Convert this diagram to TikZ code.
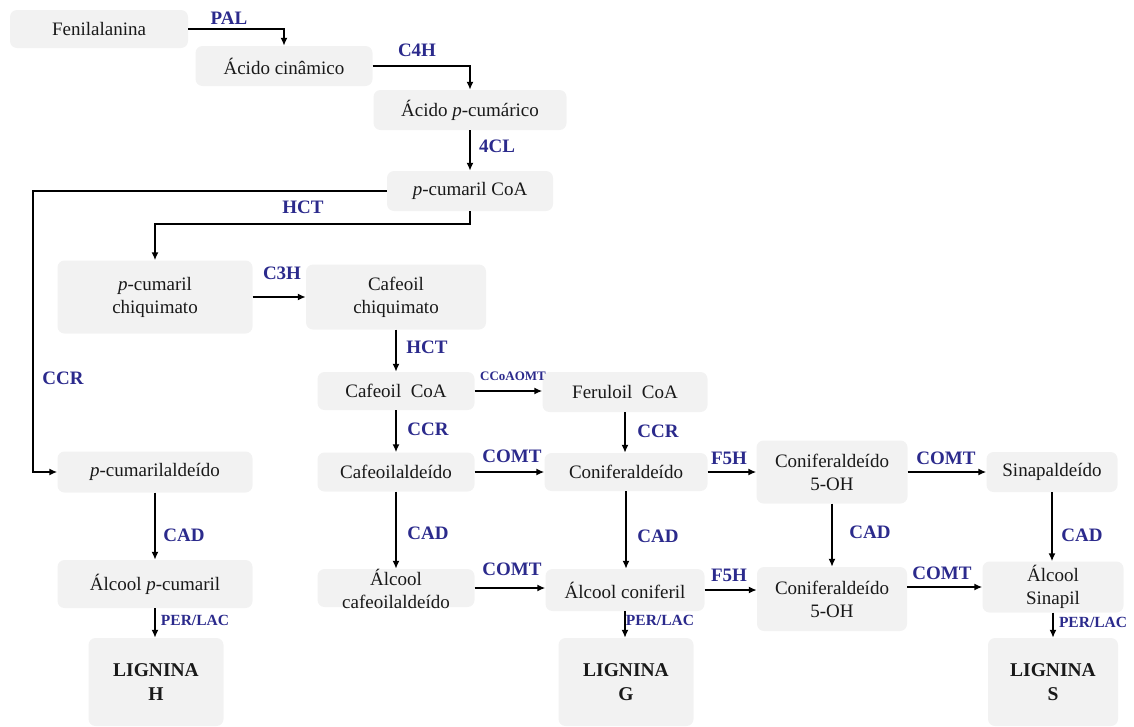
\documentclass[tikz,border=0pt]{standalone}
\usepackage{fontspec}
\setmainfont{Liberation Serif}
\usetikzlibrary{arrows.meta}
\definecolor{enz}{RGB}{43,42,140}
\definecolor{boxgray}{RGB}{242,242,242}
\definecolor{txt}{RGB}{25,25,25}
\begin{document}
\begin{tikzpicture}[x=1pt,y=-1pt,
 box/.style={fill=boxgray, rounded corners=7pt, align=center, inner sep=0pt, text=txt, font=\fontsize{19}{23}\selectfont},
 lig/.style={box, font=\bfseries\fontsize{19.5}{24}\selectfont},
 lab/.style={text=enz, font=\bfseries\fontsize{19}{22}\selectfont, inner sep=0pt},
 smalllab/.style={lab, font=\bfseries\fontsize{13}{15}\selectfont},
 perlab/.style={lab, font=\bfseries\fontsize{15.5}{18}\selectfont},
 arr/.style={-{Latex[length=8pt,width=7pt]}, line width=1.6pt},
]
\useasboundingbox (0,0) rectangle (1134,726);

% boxes
\node[box, minimum width=178pt, minimum height=38pt] (fen) at (99,29) {Fenilalanina};
\node[box, minimum width=177pt, minimum height=40pt] (cin) at (284,66) {Ácido cinâmico};
\node[box, minimum width=193pt, minimum height=40pt] (pcum) at (470,110) {Ácido \textit{p}-cumárico};
\node[box, minimum width=166pt, minimum height=40pt] (pcoa) at (470,191) {\textit{p}-cumaril CoA};
\node[box, minimum width=195pt, minimum height=73pt] (pchiq) at (155,297) {\textit{p}-cumaril\\chiquimato};
\node[box, minimum width=180pt, minimum height=65pt] (cchiq) at (396,297) {Cafeoil\\chiquimato};
\node[box, minimum width=157pt, minimum height=38pt] (ccoa) at (396,391) {Cafeoil\ \ CoA};
\node[box, minimum width=165pt, minimum height=40pt] (fcoa) at (625,392) {Feruloil\ \ CoA};
\node[box, minimum width=195pt, minimum height=41pt] (pald) at (155,472) {\textit{p}-cumarilaldeído};
\node[box, minimum width=157pt, minimum height=39pt] (cald) at (396,472) {Cafeoilaldeído};
\node[box, minimum width=163pt, minimum height=38pt] (conald) at (626,472) {Coniferaldeído};
\node[box, minimum width=151pt, minimum height=63pt] (con5a) at (832,472) {Coniferaldeído\\5-OH};
\node[box, minimum width=131pt, minimum height=40pt] (sinald) at (1052,472) {Sinapaldeído};
\node[box, minimum width=195pt, minimum height=48pt] (palc) at (155,584) {Álcool \textit{p}-cumaril};
\node[box, minimum width=157pt, minimum height=38pt, text height=0pt] (calc) at (396,588) {};
\node[text=txt, align=center, inner sep=0pt, font=\fontsize{19}{23}\selectfont] (calct) at (396,589) {Álcool\\cafeoilaldeído};
\node[box, minimum width=159pt, minimum height=42pt] (conalc) at (625,590) {Álcool coniferil};
\node[box, minimum width=150pt, minimum height=64pt] (con5b) at (832,599) {Coniferaldeído\\5-OH};
\node[box, minimum width=141pt, minimum height=51pt] (sinalc) at (1053,587) {Álcool\\Sinapil};
\node[lig, minimum width=135pt, minimum height=88pt] (ligH) at (156,682) {LIGNINA\\H};
\node[lig, minimum width=135pt, minimum height=88pt] (ligG) at (626,682) {LIGNINA\\G};
\node[lig, minimum width=130pt, minimum height=88pt] (ligS) at (1053,682) {LIGNINA\\S};

% connectors
\coordinate (ccrturn) at (33,472);
\draw[arr] (fen.east) -| (cin.north);
\draw[arr] (cin.east) -| (pcum.north);
\draw[arr] (pcum.south) -- (pcoa.north);
\draw[arr] (pcoa.west) -| (ccrturn) -- (pald.west);
\draw[arr] (pcoa.south) -- ++(0,13) -| (pchiq.north);
\draw[arr] (pchiq.east) -- (cchiq.west);
\draw[arr] (cchiq.south) -- (ccoa.north);
\draw[arr] (ccoa.east) -- (ccoa.east -| fcoa.west);
\draw[arr] (ccoa.south) -- (cald.north);
\draw[arr] (fcoa.south) -- (fcoa.south |- conald.north);
\draw[arr] (cald.east) -- (conald.west);
\draw[arr] (conald.east) -- (con5a.west);
\draw[arr] (con5a.east) -- (sinald.west);
\draw[arr] (sinald.south) -- (sinald.south |- sinalc.north);
\draw[arr] (pald.south) -- (palc.north);
\draw[arr] (cald.south) -- (calc.north);
\draw[arr] (conald.south) -- (conald.south |- conalc.north);
\draw[arr] (con5a.south) -- (con5b.north);
\draw[arr] (calc.east) -- (calc.east -| conalc.west);
\draw[arr] (conalc.east) -- (conalc.east -| con5b.west);
\draw[arr] (sinalc.west -| con5b.east) -- (sinalc.west);
\draw[arr] (palc.south) -- (palc.south |- ligH.north);
\draw[arr] (conalc.south) -- (conalc.south |- ligG.north);
\draw[arr] (sinalc.south) -- (ligS.north);

% enzyme labels
\node[lab] (lpal) at (229,18) {PAL};
\node[lab] (lc4h) at (417,50) {C4H};
\node[lab] (l4cl) at (497,146) {4CL};
\node[lab] (lhct1) at (303,207) {HCT};
\node[lab] (lccr1) at (63,378) {CCR};
\node[lab] (lc3h) at (282,273) {C3H};
\node[lab] (lhct2) at (427,347) {HCT};
\node[smalllab] (lccoa) at (513,376) {CCoAOMT};
\node[lab] (lccr2) at (428,429) {CCR};
\node[lab] (lccr3) at (658,431) {CCR};
\node[lab] (lcomt1) at (512,456) {COMT};
\node[lab] (lf5h1) at (729,458) {F5H};
\node[lab] (lcomt2) at (946,458) {COMT};
\node[lab] (lcad1) at (184,535) {CAD};
\node[lab] (lcad2) at (428,533) {CAD};
\node[lab] (lcad3) at (658,536) {CAD};
\node[lab] (lcad4) at (870,532) {CAD};
\node[lab] (lcad5) at (1082,535) {CAD};
\node[lab] (lcomt3) at (512,569) {COMT};
\node[lab] (lf5h2) at (729,575) {F5H};
\node[lab] (lcomt4) at (942,573) {COMT};
\node[perlab] (lper1) at (195,620) {PER/LAC};
\node[perlab] (lper2) at (660,620) {PER/LAC};
\node[perlab] (lper3) at (1093,622) {PER/LAC};
\end{tikzpicture}
\end{document}
